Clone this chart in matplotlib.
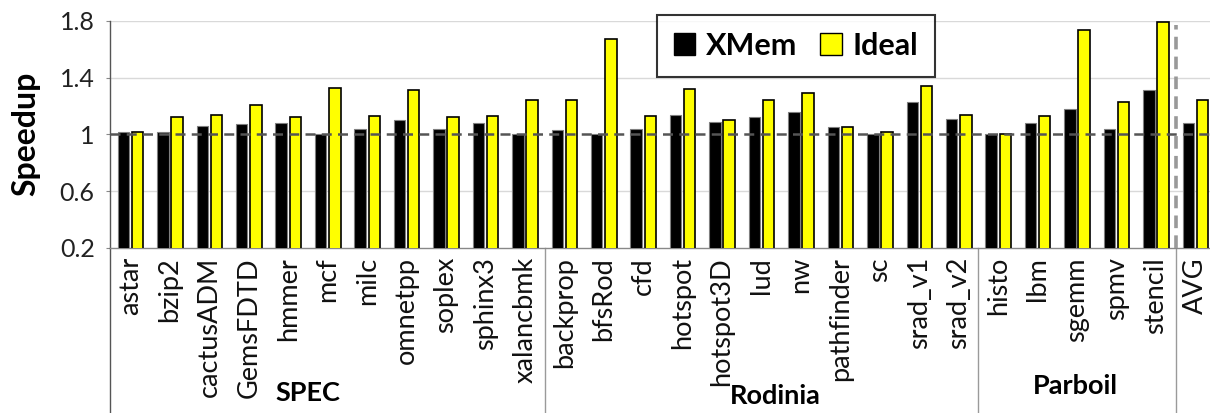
import matplotlib
matplotlib.use("Agg")
import matplotlib.pyplot as plt
import matplotlib.transforms as mtransforms
from matplotlib.patches import Patch
import numpy as np

plt.rcParams['font.family'] = ['Lato', 'DejaVu Sans']

# Benchmarks, grouped by suite
categories = ["astar", "bzip2", "cactusADM", "GemsFDTD", "hmmer", "mcf", "milc",
              "omnetpp", "soplex", "sphinx3", "xalancbmk",
              "backprop", "bfsRod", "cfd", "hotspot", "hotspot3D", "lud", "nw",
              "pathfinder", "sc", "srad_v1", "srad_v2",
              "histo", "lbm", "sgemm", "spmv", "stencil",
              "AVG"]
groups = ["SPEC", "Rodinia", "Parboil"]
group_sizes = [11, 11, 5]

xmem = [1.02, 1.02, 1.06, 1.07, 1.08, 1.00, 1.04, 1.10, 1.04, 1.08, 1.00,
        1.03, 1.00, 1.04, 1.14, 1.09, 1.12, 1.16, 1.05, 1.00, 1.23, 1.11,
        1.00, 1.08, 1.18, 1.04, 1.31,
        1.08]
ideal = [1.02, 1.12, 1.14, 1.21, 1.12, 1.33, 1.13, 1.31, 1.12, 1.13, 1.24,
         1.24, 1.67, 1.13, 1.32, 1.10, 1.24, 1.29, 1.05, 1.02, 1.34, 1.14,
         1.00, 1.13, 1.74, 1.23, 1.79,
         1.24]

yticks = [0.2, 0.6, 1.0, 1.4, 1.8]
ytick_labels = ["0.2", "0.6", "1", "1.4", "1.8"]

W, H = 1210, 413
fig = plt.figure(figsize=(W / 100, H / 100), dpi=100)
ax_bottom_px, ax_top_px = 247.7, 21
ax = fig.add_axes([110 / W, (H - ax_bottom_px) / H, (W - 110) / W,
                   (ax_bottom_px - ax_top_px) / H])

x = np.arange(len(categories))
bw = 0.29
off = 0.18
ax.bar(x - off, xmem, width=bw, color="black", edgecolor="#7f7f7f",
       linewidth=0.8, zorder=3, label="XMem")
ax.bar(x + off, ideal, width=bw, color="#ffff00", edgecolor="black",
       linewidth=1.2, zorder=3, label="Ideal")

ax.set_xlim(-0.52, 27.37)
ax.set_ylim(0.2, 1.8)
ax.set_yticks(yticks)
ax.set_yticklabels(ytick_labels, fontsize=18, color="#222222")
ax.tick_params(axis="y", length=3, width=0.8, color="#888888", pad=8)
ax.set_xticks([])

for y in [0.6, 1.4, 1.8]:
    ax.axhline(y, color="#d9d9d9", linewidth=1.0, zorder=1)
ax.axhline(1.0, color="#555555", linewidth=1.8, linestyle=(0, (4, 2.5)), zorder=4)
ax.plot([26.5, 26.5], [0.2, 1.77], color="#999999", linewidth=2.6,
        linestyle=(0, (3.5, 2)), zorder=4)

for s in ["top", "right"]:
    ax.spines[s].set_visible(False)
ax.spines["left"].set_color("#555555")
ax.spines["left"].set_linewidth(1.0)
ax.spines["bottom"].set_color("#888888")
ax.spines["bottom"].set_linewidth(1.0)

fig.text(26 / W, (H - 134) / H, "Speedup", rotation=90, fontsize=23,
         fontweight="bold", ha="center", va="center")

# category labels below the axis
label_tr = mtransforms.blended_transform_factory(ax.transData, fig.transFigure)
for xi, name in zip(x, categories):
    ax.text(xi, (H - 257) / H, name, transform=label_tr, rotation=90,
            ha="center", va="top", fontsize=19.5, color="#111111")

# group separators extending below the axis
bounds = [-0.52]
acc = 0
for n in group_sizes:
    acc += n
    bounds.append(acc - 0.5)
for b in bounds:
    ax.plot([b, b], [(H - ax_bottom_px) / H, 0], transform=label_tr,
            color="#9a9a9a" if b > 0 else "#555555", linewidth=1.0, clip_on=False)

# suite names
group_pos = [(4.5, 393), (16.35, 396), (23.95, 386)]
for name, (gx, gy) in zip(groups, group_pos):
    ax.text(gx, (H - gy) / H, name, transform=label_tr,
            ha="center", va="center", fontsize=19.5, fontweight="bold")

handles = [Patch(facecolor="black", edgecolor="black", label="XMem"),
           Patch(facecolor="#ffff00", edgecolor="black", label="Ideal")]
leg = ax.legend(handles=handles, ncol=2, loc="upper left",
                bbox_to_anchor=(657 / W, 1 - 15 / H), bbox_transform=fig.transFigure,
                frameon=True, fancybox=False, handlelength=0.7, handleheight=0.7,
                handletextpad=0.35, columnspacing=0.75, borderpad=0.55,
                prop={"weight": "bold", "size": 22}, borderaxespad=0)
leg.get_frame().set_edgecolor("black")
leg.get_frame().set_linewidth(1.5)
leg.set_zorder(10)

fig.savefig("out.png", dpi=100)
